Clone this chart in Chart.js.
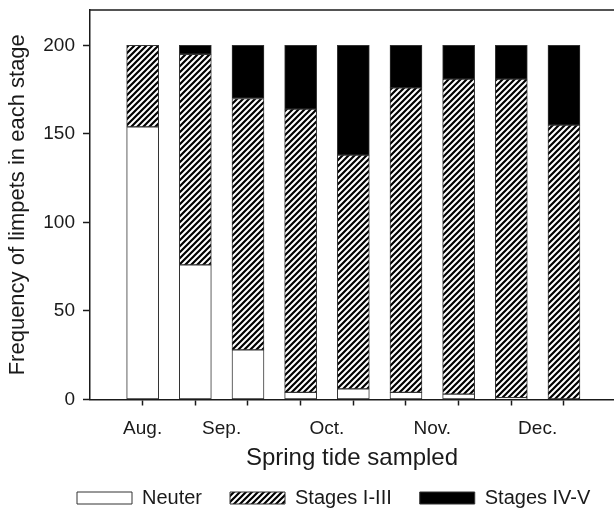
<!DOCTYPE html>
<html>
<head>
<meta charset="utf-8">
<script src="https://cdn.jsdelivr.net/npm/chart.js@4/dist/chart.umd.min.js"></script>
<style>
  html, body { margin: 0; padding: 0; background: #fff; overflow: hidden; }
  #wrap { width: 614px; height: 530px; }
</style>
</head>
<body>
<div id="wrap"><canvas id="stageChart"></canvas></div>
<script>
// one bar per spring tide sampled
const neuter = [154, 76, 28, 4, 6, 4, 3, 1, 0];
const stagesI_III = [46, 119, 142, 160, 132, 172, 178, 180, 155];
const stagesIV_V = [0, 5, 30, 36, 62, 24, 19, 19, 45];

const months = ["Aug.", "Sep.", "Oct.", "Nov.", "Dec."];
const monthPos = [0, 1.5, 3.5, 5.5, 7.5];
const yTicks = [0, 50, 100, 150, 200];

const font = "'Liberation Sans', Arial, sans-serif";
const ink = "#1a1a1a";

function hatch() {
    let c = document.createElement("canvas");
    c.width = 6; c.height = 6;
    let g = c.getContext("2d");
    g.fillStyle = "#fff";
    g.fillRect(0, 0, 6, 6);
    g.strokeStyle = "#000";
    g.lineWidth = 2.2;
    g.beginPath();
    g.moveTo(0, 6); g.lineTo(6, 0);
    g.moveTo(-3, 3); g.lineTo(3, -3);
    g.moveTo(3, 9); g.lineTo(9, 3);
    g.stroke();
    return g.createPattern(c, "repeat");
}

const toPoints = (arr) => arr.map((v, i) => ({ x: i, y: v }));
const barPos = neuter.map((v, i) => i);
const xTickVals = barPos.concat(monthPos.filter((p) => !barPos.includes(p))).sort((a, b) => a - b);

// top frame line of the plot
const frameTop = {
    id: "frameTop",
    afterDraw(chart) {
        const { ctx, chartArea } = chart;
        ctx.save();
        ctx.strokeStyle = ink;
        ctx.lineWidth = 1.5;
        ctx.beginPath();
        ctx.moveTo(chartArea.left, chartArea.top);
        ctx.lineTo(chartArea.right, chartArea.top);
        ctx.stroke();
        ctx.restore();
    },
};

// move the legend row to where it sits in the figure
const legendNudge = {
    id: "legendNudge",
    afterLayout(chart) {
        const lg = chart.legend;
        lg.left += 49; lg.right += 49;
        lg.top -= 12; lg.bottom -= 12;
    },
};

const noEdgePadding = (scale) => {
    scale.paddingTop = 0;
    scale.paddingBottom = 0;
    scale.paddingLeft = 0;
    scale.paddingRight = 0;
};

const ctx = document.getElementById("stageChart").getContext("2d");

const stageChart = new Chart(ctx, {
    type: "bar",
    data: {
        datasets: [
            {
                label: "Neuter",
                data: toPoints(neuter),
                backgroundColor: "#ffffff",
                borderColor: "#333",
                borderWidth: 1,
            },
            {
                label: "Stages I-III",
                data: toPoints(stagesI_III),
                backgroundColor: hatch(),
                borderColor: "#333",
                borderWidth: 1,
            },
            {
                label: "Stages IV-V",
                data: toPoints(stagesIV_V),
                backgroundColor: "#000000",
                borderColor: "#333",
                borderWidth: 1,
            },
        ],
    },
    options: {
        responsive: true,
        maintainAspectRatio: false,
        animation: false,
        barThickness: 32,
        borderSkipped: false,
        layout: { padding: { top: 10, left: 0, right: 0, bottom: 0 } },
        plugins: {
            tooltip: { enabled: false },
            legend: {
                position: "bottom",
                align: "start",
                labels: {
                    boxWidth: 55,
                    boxHeight: 12,
                    padding: 28,
                    color: ink,
                    font: { family: font, size: 20 },
                },
            },
        },
        scales: {
            x: {
                type: "linear",
                stacked: true,
                offset: false,
                min: -1,
                max: 8.95,
                afterBuildTicks: (scale) => {
                    scale.ticks = xTickVals.map((v) => ({ value: v }));
                },
                afterFit: (scale) => {
                    scale.height = 72.5;
                    noEdgePadding(scale);
                },
                grid: {
                    offset: false,
                    drawOnChartArea: false,
                    drawTicks: true,
                    tickLength: 6,
                    tickWidth: 1.5,
                    tickColor: (c) => (c.tick && !Number.isInteger(c.tick.value) ? "rgba(0,0,0,0)" : ink),
                },
                border: { color: ink, width: 1.5 },
                ticks: {
                    autoSkip: false,
                    maxRotation: 0,
                    padding: 12,
                    color: ink,
                    font: { family: font, size: 19 },
                    callback: (v) => {
                        let k = monthPos.indexOf(v);
                        return k >= 0 ? months[k] : "";
                    },
                },
                title: {
                    display: true,
                    text: "Spring tide sampled",
                    color: ink,
                    font: { family: font, size: 24 },
                    padding: { top: 0, bottom: -1 },
                },
            },
            y: {
                stacked: true,
                min: 0,
                max: 220,
                afterBuildTicks: (scale) => {
                    scale.ticks = yTicks.map((v) => ({ value: v }));
                },
                afterFit: (scale) => {
                    scale.width = 90;
                    noEdgePadding(scale);
                },
                grid: {
                    drawOnChartArea: false,
                    drawTicks: true,
                    tickLength: 7,
                    tickWidth: 1.5,
                    tickColor: ink,
                },
                border: { color: ink, width: 1.5 },
                ticks: {
                    padding: 8,
                    color: ink,
                    font: { family: font, size: 19 },
                },
                title: {
                    display: true,
                    text: "Frequency of limpets in each stage",
                    color: ink,
                    font: { family: font, size: 22 },
                    padding: { top: 5, bottom: 0 },
                },
            },
        },
    },
    plugins: [frameTop, legendNudge],
});
</script>
</body>
</html>
